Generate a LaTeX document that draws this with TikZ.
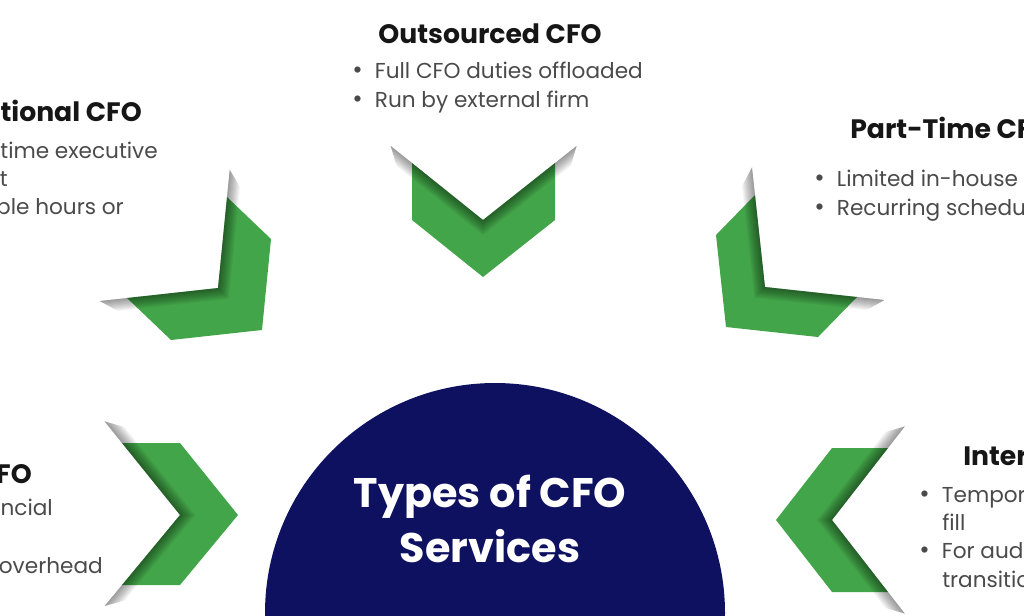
\documentclass[tikz,border=0pt]{standalone}
\usepackage{fontspec}
\setmainfont{Poppins}
\usetikzlibrary{calc}
\definecolor{cfogreen}{RGB}{67,165,73}
\definecolor{cfonavy}{RGB}{14,17,96}
\definecolor{cfogrey}{RGB}{74,74,74}
\definecolor{cfoink}{RGB}{22,22,22}
\tikzset{
    cfotitle/.style={inner sep=0pt, font=\fontsize{20}{24}\selectfont\bfseries, text=cfoink},
    cfoitem/.style={inner sep=0pt, font=\fontsize{16.2}{20}\selectfont, text=cfogrey},
    cfohub/.style={circle, fill=cfonavy, minimum size=345pt, inner sep=0pt},
    cfohubtext/.style={align=center, inner sep=0pt, text=white, font=\fontsize{31}{41}\selectfont\bfseries},
    cfoshade/.style={black, opacity=0.04, line join=miter}
}
\newcommand{\cfobul}{\makebox[17pt][l]{\fontsize{19}{19}\selectfont\textbullet}}
% #1 arm end, #2 notch, #3 arm end, #4 thickness
\newcommand{\cfochevron}[4]{%
    \fill[cfogreen] (#1) -- (#2) -- (#3) -- ($(#3)+(#4)$) -- ($(#2)+(#4)$) -- ($(#1)+(#4)$) -- cycle;
    \begin{scope}
        \clip ($(#2)!1.3!(#1)$) -- (#2) -- ($(#2)!1.3!(#3)$) -- ($(#3)+(#4)$) -- ($(#2)+(#4)$) -- ($(#1)+(#4)$) -- cycle;
        \foreach \w in {1.5,3,...,18}
            \draw[cfoshade, line width=\w pt] ($(#2)!1.3!(#1)$) -- (#2) -- ($(#2)!1.3!(#3)$);
    \end{scope}
}

\begin{document}
\begin{tikzpicture}[x=0.75pt, y=-0.75pt]
    \useasboundingbox (0,0) rectangle (1024,615);
    \clip (0,0) rectangle (1024,615);

    % chevrons round the hub
    \cfochevron{412,163}{483,220}{555,163}{0,57}
    \cfochevron{227,197}{218,288}{127,298}{44,42}
    \cfochevron{755,195}{765,287}{857,297}{-39,40}
    \cfochevron{122,443}{180,515}{122,585}{58,0}
    \cfochevron{888,448}{832,520}{888,592}{-56,0}

    % hub
    \node[cfohub] (hub) at (495,613) {};
    \node[cfohubtext, anchor=base] (hubtext) at (490,562) {Types of CFO\\Services};

    % outsourced
    \node[cfotitle, anchor=base] (outtitle) at (490,43) {Outsourced CFO};
    \node[cfoitem, anchor=base west] (out1) at (352,78) {\cfobul Full CFO duties offloaded};
    \node[cfoitem, anchor=base west] (out2) at (352,107.5) {\cfobul Run by external firm};

    % fractional
    \node[cfotitle, anchor=base east] (fractitle) at (142,121) {tional CFO};
    \node[cfoitem, anchor=base east] (frac1) at (158,158) {time executive};
    \node[cfoitem, anchor=base east] (frac2) at (8,186) {t};
    \node[cfoitem, anchor=base east] (frac3) at (124,214) {ble hours or};

    % part-time
    \node[cfotitle, anchor=base west] (parttitle) at (850,138) {Part-Time CF};
    \node[cfoitem, anchor=base west] (part1) at (814,186) {\cfobul Limited in-house s};
    \node[cfoitem, anchor=base west] (part2) at (814,215) {\cfobul Recurring schedu};

    % managed
    \node[cfotitle, anchor=base east] (mantitle) at (32,483) {FO};
    \node[cfoitem, anchor=base east] (man1) at (53,515) {ancial};
    \node[cfoitem, anchor=base east] (man2) at (103,573) {overhead};

    % interim
    \node[cfotitle, anchor=base west] (inttitle) at (963,465) {Inter};
    \node[cfoitem, anchor=base west] (int1) at (919,502) {\cfobul Tempor};
    \node[cfoitem, anchor=base west] (int2) at (942,530) {fill};
    \node[cfoitem, anchor=base west] (int3) at (919,558) {\cfobul For aud};
    \node[cfoitem, anchor=base west] (int4) at (942,587) {transitio};
\end{tikzpicture}
\end{document}
